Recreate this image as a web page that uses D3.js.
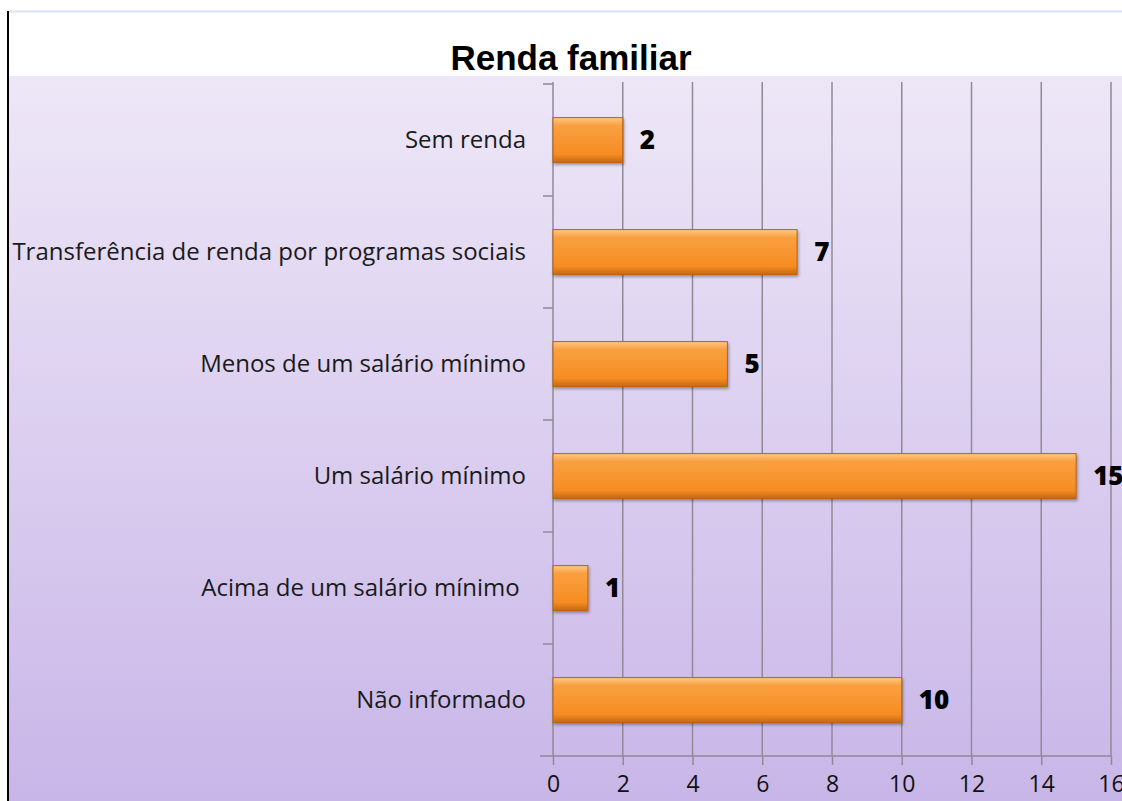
<!DOCTYPE html>
<html lang="pt">
<head>
<meta charset="UTF-8">
<title>Renda familiar</title>
<script src="https://d3js.org/d3.v7.min.js"></script>
<style>
  body { margin: 0; background: #fff; }
</style>
</head>
<body>
<script>
const categories = [
  "Sem renda",
  "Transferência de renda por programas sociais",
  "Menos de um salário mínimo",
  "Um salário mínimo",
  "Acima de um salário mínimo ",
  "Não informado"
];
const values = [2, 7, 5, 15, 1, 10];
const xTicks = [0, 2, 4, 6, 8, 10, 12, 14, 16];

const width = 1122, height = 801;
const plotLeft = 553, plotRight = 1111, plotTop = 84, plotBottom = 756;

const svg = d3.select("body").append("svg")
  .attr("width", width)
  .attr("height", height);

const defs = svg.append("defs");

// background of plot area
const bg = defs.append("linearGradient").attr("id", "bg")
  .attr("x1", 0).attr("y1", 0).attr("x2", 0).attr("y2", 1);
bg.append("stop").attr("offset", "0%").attr("stop-color", "#eee7f7");
bg.append("stop").attr("offset", "100%").attr("stop-color", "#c8b6e8");

// bar fill
const bar = defs.append("linearGradient").attr("id", "bar")
  .attr("x1", 0).attr("y1", 0).attr("x2", 0).attr("y2", 1);
bar.append("stop").attr("offset", "0%").attr("stop-color", "#fcc985");
bar.append("stop").attr("offset", "18%").attr("stop-color", "#f9a040");
bar.append("stop").attr("offset", "82%").attr("stop-color", "#f68c22");
bar.append("stop").attr("offset", "100%").attr("stop-color", "#c76a12");

const shadow = defs.append("filter").attr("id", "shadow")
  .attr("x", "-10%").attr("y", "-20%").attr("width", "130%").attr("height", "160%");
shadow.append("feDropShadow").attr("dx", 1).attr("dy", 2)
  .attr("stdDeviation", 1.5).attr("flood-color", "#000").attr("flood-opacity", 0.35);

// frame
svg.append("rect").attr("x", 8).attr("y", 76).attr("width", width - 8).attr("height", height - 76)
  .attr("fill", "url(#bg)");
svg.append("line").attr("x1", 8).attr("x2", width).attr("y1", 11.5).attr("y2", 11.5)
  .attr("stroke", "#d9e1f4").attr("stroke-width", 2);
svg.append("line").attr("x1", 8).attr("x2", 8).attr("y1", 11).attr("y2", height)
  .attr("stroke", "#000").attr("stroke-width", 2);

svg.append("text")
  .attr("x", 571).attr("y", 70)
  .attr("text-anchor", "middle")
  .attr("font-family", "Liberation Sans, Arial, sans-serif")
  .attr("font-weight", "bold")
  .attr("font-size", "35px")
  .text("Renda familiar");

const xScale = d3.scaleLinear().domain([0, 16]).range([plotLeft, plotRight]);
const yScale = d3.scaleBand().domain(categories).range([plotTop, plotBottom]).paddingInner(0.6).paddingOuter(0.3);
const yBand = d3.scaleBand().domain(categories).range([plotTop, plotBottom]);

// gridlines
svg.append("g").selectAll("line")
  .data(xTicks.slice(1))
  .enter().append("line")
  .attr("x1", d => xScale(d)).attr("x2", d => xScale(d))
  .attr("y1", plotTop - 2).attr("y2", plotBottom)
  .attr("stroke", "#8f8a96").attr("stroke-width", 1.5);

// x axis
const xAxis = svg.append("g")
  .attr("transform", `translate(0,${plotBottom})`)
  .call(d3.axisBottom(xScale).tickValues(xTicks).tickSize(9).tickPadding(11));
xAxis.select(".domain").remove();
xAxis.append("line").attr("x1", plotLeft - 13).attr("x2", plotRight).attr("y1", 0).attr("y2", 0)
  .attr("stroke", "#8f8a96").attr("stroke-width", 1.5);
xAxis.selectAll(".tick line").attr("stroke", "#8f8a96").attr("stroke-width", 1.5);
xAxis.selectAll(".tick text")
  .attr("font-family", "Open Sans, sans-serif")
  .attr("font-size", "23px")
  .attr("fill", "#111");

// y axis line and band ticks
svg.append("line").attr("x1", plotLeft).attr("x2", plotLeft).attr("y1", plotTop - 2).attr("y2", plotBottom)
  .attr("stroke", "#8f8a96").attr("stroke-width", 1.5);
svg.append("g").selectAll("line")
  .data(categories)
  .enter().append("line")
  .attr("x1", plotLeft - 10).attr("x2", plotLeft)
  .attr("y1", d => yBand(d)).attr("y2", d => yBand(d))
  .attr("stroke", "#8f8a96").attr("stroke-width", 1.5);

// category labels
svg.append("g").selectAll("text")
  .data(categories)
  .enter().append("text")
  .attr("x", 526)
  .attr("y", d => yBand(d) + yBand.bandwidth() / 2)
  .attr("dy", "0.35em")
  .attr("text-anchor", "end")
  .style("white-space", "pre")
  .attr("font-family", "Open Sans, sans-serif")
  .attr("font-size", "24px")
  .attr("fill", "#1a1a1a")
  .text(d => d);

// bars
svg.append("g").selectAll("rect")
  .data(values)
  .enter().append("rect")
  .attr("x", xScale(0))
  .attr("y", (d, i) => yScale(categories[i]))
  .attr("width", d => xScale(d) - xScale(0))
  .attr("height", yScale.bandwidth())
  .attr("fill", "url(#bar)")
  .attr("stroke", "#b9640f")
  .attr("stroke-width", 1)
  .attr("filter", "url(#shadow)");

// value labels
svg.append("g").selectAll("text")
  .data(values)
  .enter().append("text")
  .attr("x", d => xScale(d) + 17)
  .attr("y", (d, i) => yScale(categories[i]) + yScale.bandwidth() / 2)
  .attr("dy", "0.36em")
  .attr("font-family", "Open Sans, sans-serif")
  .attr("font-weight", "800")
  .attr("font-size", "26px")
  .attr("fill", "#000")
  .text(d => d);
</script>
</body>
</html>
